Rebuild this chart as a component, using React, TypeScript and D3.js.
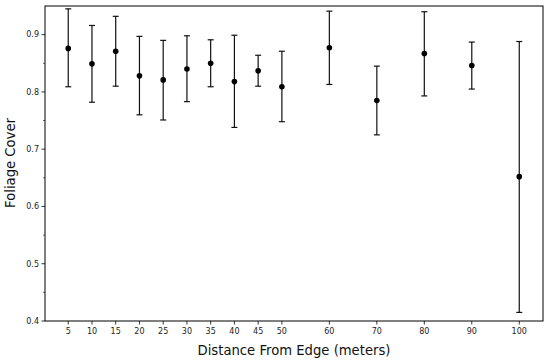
import React from "react";
import * as d3 from "d3";

const distances = [5, 10, 15, 20, 25, 30, 35, 40, 45, 50, 60, 70, 80, 90, 100];
const means = [0.876, 0.849, 0.871, 0.828, 0.821, 0.840, 0.850, 0.818, 0.837, 0.809, 0.877, 0.785, 0.867, 0.846, 0.652];
const lows = [0.809, 0.782, 0.810, 0.760, 0.751, 0.783, 0.809, 0.738, 0.810, 0.748, 0.813, 0.725, 0.793, 0.805, 0.415];
const highs = [0.945, 0.916, 0.932, 0.897, 0.890, 0.898, 0.891, 0.899, 0.864, 0.871, 0.941, 0.845, 0.940, 0.887, 0.888];
const yTicks = [0.4, 0.5, 0.6, 0.7, 0.8, 0.9];
const yMinor = [0.45, 0.55, 0.65, 0.75, 0.85];

export default function App() {
  const W = 550, H = 362;
  const left = 45, right = 543, top = 6, bottom = 321;
  const x = d3.scaleLinear().domain([0, 105]).range([left - 0.5, right]);
  const y = d3.scaleLinear().domain([0.4, 0.95]).range([bottom, top]);
  const font = "DejaVu Sans, sans-serif";
  return (
    <svg width={W} height={H} style={{ position: "absolute", left: 0, top: 0 }}>
      <rect x={0} y={0} width={W} height={H} fill="#fff" />
      {distances.map((d, i) => (
        <g key={d} stroke="#111" strokeWidth={1.2}>
          <line x1={x(d)} x2={x(d)} y1={y(lows[i])} y2={y(highs[i])} />
          <line x1={x(d) - 3} x2={x(d) + 3} y1={y(lows[i])} y2={y(lows[i])} />
          <line x1={x(d) - 3} x2={x(d) + 3} y1={y(highs[i])} y2={y(highs[i])} />
          <circle cx={x(d)} cy={y(means[i])} r={2.8} fill="#000" stroke="none" />
        </g>
      ))}
      <rect x={left} y={top} width={right - left} height={bottom - top} fill="none" stroke="#000" strokeWidth={1} />
      {yTicks.map((t) => (
        <g key={t}>
          <line x1={left - 3.5} x2={left} y1={y(t)} y2={y(t)} stroke="#000" strokeWidth={0.8} />
          <text x={left - 6} y={y(t)} dy="0.35em" textAnchor="end" fontSize={8} fontFamily={font} fill="#222">
            {t.toFixed(1)}
          </text>
        </g>
      ))}
      {yMinor.map((t) => (
        <line key={t} x1={left - 2} x2={left} y1={y(t)} y2={y(t)} stroke="#000" strokeWidth={0.6} />
      ))}
      {distances.map((d) => (
        <g key={d}>
          <line x1={x(d)} x2={x(d)} y1={bottom} y2={bottom + 3.5} stroke="#000" strokeWidth={0.8} />
          <text x={x(d)} y={bottom + 13} textAnchor="middle" fontSize={8} fontFamily={font} fill="#222">
            {d}
          </text>
        </g>
      ))}
      <text x={(left + right) / 2 + 0} y={355} textAnchor="middle" fontSize={13.2} fontFamily={font} fill="#111">
        Distance From Edge (meters)
      </text>
      <text transform={`translate(15, ${163}) rotate(-90)`} textAnchor="middle" fontSize={13.2} fontFamily={font} fill="#111">
        Foliage Cover
      </text>
    </svg>
  );
}
